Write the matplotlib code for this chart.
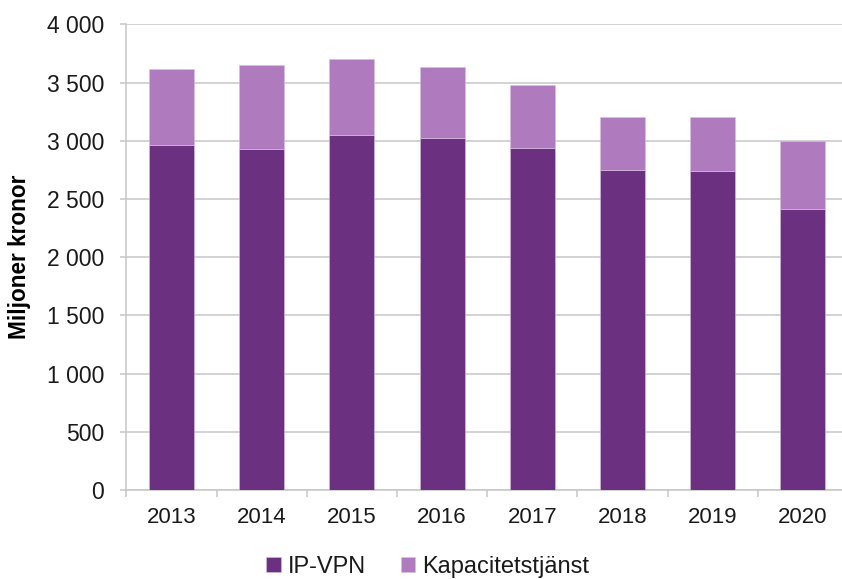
import matplotlib
matplotlib.use("Agg")
import matplotlib.pyplot as plt
from matplotlib.ticker import FuncFormatter, MultipleLocator
import numpy as np

years = ["2013", "2014", "2015", "2016", "2017", "2018", "2019", "2020"]
ip_vpn = [2960, 2925, 3050, 3025, 2935, 2745, 2740, 2415]
kapacitet = [660, 725, 650, 605, 540, 455, 460, 580]

DARK = "#6b3180"
LIGHT = "#b07bbe"
GRID = "#c6c6c6"

plt.rcParams["font.family"] = ["Liberation Sans", "DejaVu Sans"]
plt.rcParams["text.color"] = "#1a1a1a"

fig = plt.figure(figsize=(8.42, 5.79), dpi=100)
ax = fig.add_axes([126.4 / 842, 1 - 490 / 579, 721.6 / 842, (490 - 24.3) / 579])

x = np.arange(len(years))
ax.bar(x, ip_vpn, width=0.5, color=DARK, edgecolor="#d8c0e0", linewidth=0.4,
       label="IP-VPN", zorder=3)
ax.bar(x, kapacitet, width=0.5, bottom=ip_vpn, color=LIGHT, edgecolor="#d8c0e0",
       linewidth=0.4, label="Kapacitetstjänst", zorder=3)

ax.set_xlim(-0.5, len(years) - 0.5)
ax.set_ylim(0, 4000)

# y axis with space as thousands separator
ax.yaxis.set_major_locator(MultipleLocator(500))
ax.yaxis.set_major_formatter(FuncFormatter(lambda v, p: f"{int(v):,}".replace(",", " ")))
ax.grid(axis="y", color=GRID, linewidth=1.1, zorder=0)
ax.tick_params(axis="y", length=4, width=1.1, color=GRID, pad=12,
               labelsize=16.5, labelcolor="#1a1a1a")

# x labels at centres, tick marks at the boundaries
ax.set_xticks(x)
ax.set_xticklabels(years)
ax.set_xticks(np.arange(len(years) + 1) - 0.5, minor=True)
ax.tick_params(axis="x", which="major", length=0, pad=12, labelsize=16,
               labelcolor="#1a1a1a")
ax.tick_params(axis="x", which="minor", length=5, width=1.1, color=GRID)

for side in ["top", "right"]:
    ax.spines[side].set_visible(False)
for side in ["left", "bottom"]:
    ax.spines[side].set_color(GRID)
    ax.spines[side].set_linewidth(1.1)

ax.set_ylabel("Miljoner kronor", fontsize=16.3, fontweight="bold", va="center")
ax.yaxis.set_label_coords(-0.148, 0.5)

fig.legend(loc="center", bbox_to_anchor=(428 / 842, 1 - 567 / 579), ncol=2,
           frameon=False, fontsize=17, handlelength=0.6, handleheight=0.6,
           handletextpad=0.3, columnspacing=1.5)

fig.savefig("out.png", dpi=100)
